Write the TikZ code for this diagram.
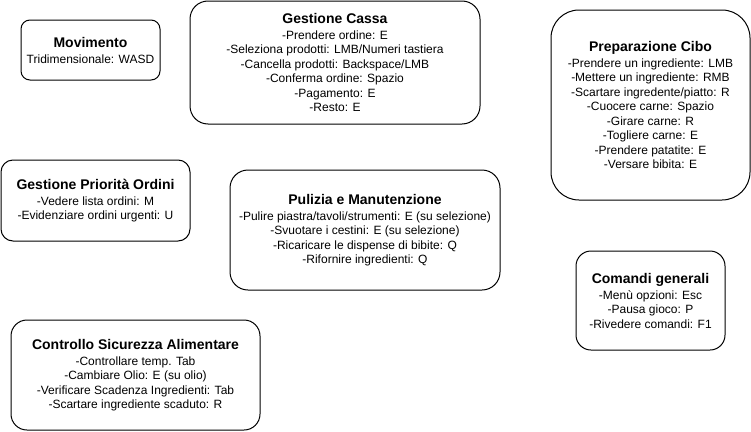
\documentclass[tikz,border=0pt]{standalone}
\usepackage{fontspec}
\setmainfont{Liberation Sans}
\newcommand{\titolo}[1]{{\fontsize{14}{16}\selectfont\bfseries #1}\\[1.5pt]}

\begin{document}
\begin{tikzpicture}[x=1pt, y=-1pt, line width=1pt,
		box/.style={draw, rounded corners=#1, align=center, inner sep=0pt, font=\fontsize{12}{14.5}\selectfont}]
			\useasboundingbox (0,0) rectangle (751,431);
			\node[box=9pt, minimum width=139pt, minimum height=60pt] (mov) at (90.5,50) {\titolo{Movimento}Tridimensionale: WASD};
			\node[box=18pt, minimum width=290pt, minimum height=123pt] (cassa) at (335,62.5) {\titolo{Gestione Cassa}-Prendere ordine: E\\-Seleziona prodotti: LMB/Numeri tastiera\\-Cancella prodotti: Backspace/LMB\\-Conferma ordine: Spazio\\-Pagamento: E\\-Resto: E};
			\node[box=28pt, minimum width=199pt, minimum height=190pt] (cibo) at (650.5,105) {\titolo{Preparazione Cibo}-Prendere un ingrediente: LMB\\-Mettere un ingrediente: RMB\\-Scartare ingredente/piatto: R\\-Cuocere carne: Spazio\\-Girare carne: R\\-Togliere carne: E\\-Prendere patatite: E\\-Versare bibita: E};
			\node[box=12pt, minimum width=189pt, minimum height=81pt] (prio) at (95.5,200.5) {\titolo{Gestione Priorità Ordini}-Vedere lista ordini: M\\-Evidenziare ordini urgenti: U};
			\node[box=18pt, minimum width=270pt, minimum height=120pt] (pulizia) at (365,230) {\titolo{Pulizia e Manutenzione}-Pulire piastra/tavoli/strumenti: E (su selezione)\\-Svuotare i cestini: E (su selezione)\\-Ricaricare le dispense di bibite: Q\\-Rifornire ingredienti: Q};
			\node[box=15pt, minimum width=149pt, minimum height=99pt] (comandi) at (650.5,300.5) {\titolo{Comandi generali}-Menù opzioni: Esc\\-Pausa gioco: P\\-Rivedere comandi: F1};
			\node[box=16pt, minimum width=249pt, minimum height=110pt] (sicur) at (135.5,375) {\titolo{Controllo Sicurezza Alimentare}-Controllare temp. Tab\\-Cambiare Olio: E (su olio)\\-Verificare Scadenza Ingredienti: Tab\\-Scartare ingrediente scaduto: R};
		\end{tikzpicture}
\end{document}
